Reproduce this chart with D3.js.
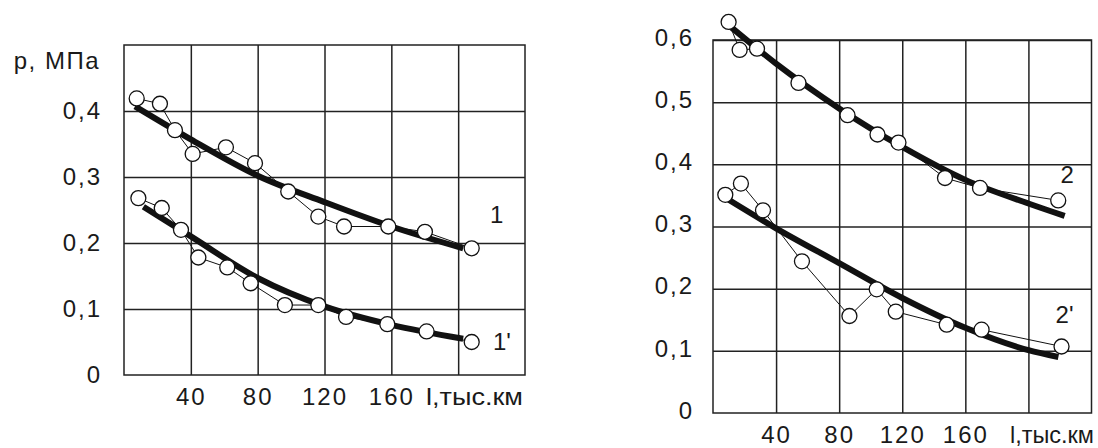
<!DOCTYPE html>
<html>
<head>
<meta charset="utf-8">
<script src="https://cdn.jsdelivr.net/npm/d3@7"></script>
<style>
  body { margin: 0; background: #fff; }
  text { font-family: "Liberation Sans", Arial, sans-serif; fill: #1a1a1a; }
</style>
</head>
<body>
<div id="chart"></div>
<script>
// pressure vs mileage, two panels
const width = 1098;
const height = 448;

const gridKm = [40, 80, 120, 160, 200];
const kmTicks = [40, 80, 120, 160];
const kmTitle = "l,тыс.км";

const leftPTicks = [0, 0.1, 0.2, 0.3, 0.4];
const leftPLabels = ["0", "0,1", "0,2", "0,3", "0,4"];
const rightPTicks = [0, 0.1, 0.2, 0.3, 0.4, 0.5, 0.6];
const rightPLabels = ["0", "0,1", "0,2", "0,3", "0,4", "0,5", "0,6"];

// measured points (thin line + circles)
const s1Km = [7.6, 21.5, 30.5, 41.1, 61, 78.4, 98.3, 116.3, 131.7, 158.2, 180.1, 208.1];
const s1P  = [0.419, 0.411, 0.371, 0.335, 0.345, 0.321, 0.278, 0.240, 0.225, 0.225, 0.217, 0.192];
const s1aKm = [8.6, 22.6, 34.1, 44.5, 61.8, 75.8, 96.3, 116.3, 132.9, 157.6, 181.1, 208.1];
const s1aP  = [0.268, 0.253, 0.220, 0.178, 0.163, 0.139, 0.106, 0.106, 0.088, 0.077, 0.066, 0.050];
const s2Km = [9.9, 16.9, 27.9, 54.2, 85.3, 104.3, 117.6, 147.1, 169.3, 218.9];
const s2P  = [0.629, 0.584, 0.586, 0.531, 0.479, 0.448, 0.435, 0.378, 0.362, 0.342];
const s2aKm = [7.8, 17.7, 31.7, 56.4, 86.5, 103.8, 115.9, 148.2, 170.3, 221];
const s2aP  = [0.351, 0.369, 0.326, 0.244, 0.156, 0.199, 0.163, 0.142, 0.134, 0.107];

// approximating curves (thick)
const f1Km = [6.6, 40, 80, 120, 160, 203];
const f1P  = [0.407, 0.357, 0.302, 0.262, 0.225, 0.192];
const f1aKm = [11.6, 40, 80, 120, 160, 203];
const f1aP  = [0.255, 0.210, 0.147, 0.104, 0.076, 0.055];
const f2Km = [9.9, 40, 80, 120, 160, 200, 223];
const f2P  = [0.624, 0.562, 0.490, 0.428, 0.375, 0.337, 0.317];
const f2aKm = [9.9, 40, 80, 120, 160, 200, 219];
const f2aP  = [0.343, 0.297, 0.241, 0.185, 0.137, 0.101, 0.090];

const svg = d3.select("#chart").append("svg")
    .attr("width", width)
    .attr("height", height);

const zip = (a, b) => a.map((v, i) => [v, b[i]]);

function panel(o) {
    const x = d3.scaleLinear().domain([0, 240]).range(o.xr);
    const y = d3.scaleLinear().domain([0, o.pMax]).range(o.yr);
    const g = svg.append("g");
    const h = o.yr[0] - o.yr[1];
    const w = o.xr[1] - o.xr[0];

    // grid
    g.append("g")
        .attr("transform", "translate(0," + o.yr[0] + ")")
        .call(d3.axisBottom(x).tickValues(gridKm).tickSize(-h).tickFormat(""))
        .call(a => a.select(".domain").remove())
        .selectAll("line").attr("stroke", "#222").attr("stroke-width", 1.5);
    g.append("g")
        .attr("transform", "translate(" + o.xr[0] + ",0)")
        .call(d3.axisLeft(y).tickValues(o.pTicks.slice(1)).tickSize(-w).tickFormat(""))
        .call(a => a.select(".domain").remove())
        .selectAll("line").attr("stroke", "#222").attr("stroke-width", 1.5);
    g.append("rect")
        .attr("x", o.xr[0]).attr("y", o.yr[1])
        .attr("width", w).attr("height", h)
        .attr("fill", "none").attr("stroke", "#222").attr("stroke-width", 1.5);

    // tick labels
    const xa = g.append("g")
        .attr("transform", "translate(0," + o.yr[0] + ")")
        .call(d3.axisBottom(x).tickValues(kmTicks).tickSize(0).tickPadding(13));
    const ya = g.append("g")
        .attr("transform", "translate(" + o.xr[0] + ",0)")
        .call(d3.axisLeft(y).tickValues(o.pTicks).tickSize(0).tickPadding(o.yPad)
            .tickFormat((d, i) => o.pLabels[i]));
    [xa, ya].forEach(a => {
        a.select(".domain").remove();
        a.attr("font-size", null).attr("font-family", null);
        a.selectAll("text")
            .style("font-size", "24px")
            .style("letter-spacing", "2px")
            .attr("fill", "#1a1a1a");
    });
    ya.selectAll("text").attr("dy", o.yDy);

    g.append("text")
        .attr("x", o.titleX).attr("y", o.yr[0] + 30)
        .attr("textLength", o.titleLen)
        .attr("lengthAdjust", "spacingAndGlyphs")
        .style("font-size", "24px")
        .text(kmTitle);

    const thick = d3.line().x(d => x(d[0])).y(d => y(d[1])).curve(d3.curveMonotoneX);
    const thin = d3.line().x(d => x(d[0])).y(d => y(d[1]));

    o.series.forEach(s => {
        g.append("path")
            .attr("d", thick(zip(s.fKm, s.fP)))
            .attr("fill", "none").attr("stroke", "#111").attr("stroke-width", 6);
    });
    o.series.forEach(s => {
        g.append("path")
            .attr("d", thin(zip(s.km, s.p)))
            .attr("fill", "none").attr("stroke", "#111").attr("stroke-width", 1);
        g.selectAll(null)
            .data(zip(s.km, s.p))
            .enter().append("circle")
            .attr("cx", d => x(d[0]))
            .attr("cy", d => y(d[1]))
            .attr("r", 7.5)
            .attr("fill", "#fff").attr("stroke", "#111").attr("stroke-width", 1.3);
        g.append("text")
            .attr("x", x(s.lab[0])).attr("y", y(s.lab[1]))
            .style("font-size", "24px")
            .text(s.name);
    });
}

panel({
    xr: [124, 525], yr: [375, 45], pMax: 0.5,
    pTicks: leftPTicks, pLabels: leftPLabels, yPad: 22, yDy: "0.32em",
    titleX: 426, titleLen: 97,
    series: [
        {name: "1", km: s1Km, p: s1P, fKm: f1Km, fP: f1P, lab: [219, 0.230]},
        {name: "1'", km: s1aKm, p: s1aP, fKm: f1aKm, fP: f1aP, lab: [220.8, 0.038]}
    ]
});

panel({
    xr: [713, 1091.5], yr: [413, 40], pMax: 0.6,
    pTicks: rightPTicks, pLabels: rightPLabels, yPad: 19, yDy: "0.22em",
    titleX: 1010, titleLen: 84,
    series: [
        {name: "2", km: s2Km, p: s2P, fKm: f2Km, fP: f2P, lab: [220.4, 0.370]},
        {name: "2'", km: s2aKm, p: s2aP, fKm: f2aKm, fP: f2aP, lab: [217.2, 0.145]}
    ]
});

// y title on the left panel
svg.append("text")
    .attr("x", 100).attr("y", 69)
    .attr("text-anchor", "end")
    .style("font-size", "24px")
    .style("letter-spacing", "1.5px")
    .text("p, МПа");
</script>
</body>
</html>
